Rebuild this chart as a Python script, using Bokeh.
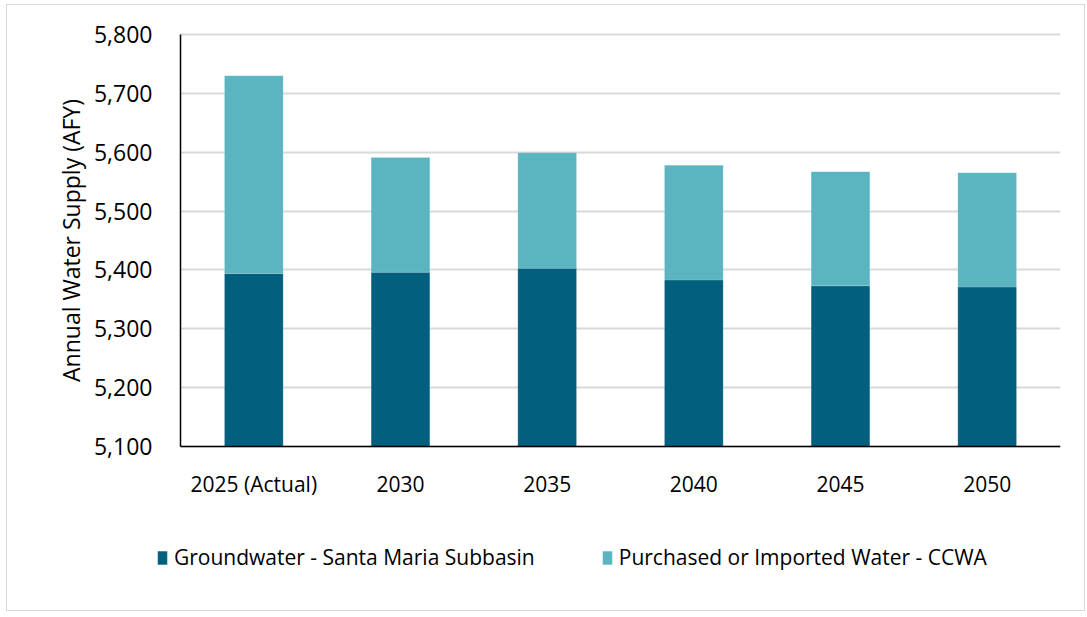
from bokeh.plotting import figure
from bokeh.models import (ColumnDataSource, NumeralTickFormatter, Legend, LegendItem, Range1d,
                          FixedTicker, LinearAxis, Grid)
from bokeh.embed import file_html
from bokeh.resources import INLINE

categories = ["2025 (Actual)", "2030", "2035", "2040", "2045", "2050"]
groundwater = [5394, 5396, 5403, 5383, 5373, 5371]
purchased = [336, 195, 196, 195, 194, 194]
y_ticks = [5100, 5200, 5300, 5400, 5500, 5600, 5700, 5800]

series_names = ["Groundwater - Santa Maria Subbasin", "Purchased or Imported Water - CCWA"]
colors = ["#025f7d", "#5ab5c0"]

idx = list(range(len(categories)))
total = [g + q for g, q in zip(groundwater, purchased)]
base = [y_ticks[0]] * len(categories)
src = ColumnDataSource(dict(x=idx, base=base, gw=groundwater, total=total))

FONT = "Open Sans"

# layout (pixels)
W, H = 1079, 607
ORIGIN_X, ORIGIN_Y = 8, 6
FRAME_L, FRAME_R, FRAME_T, FRAME_B = 12, 1061, 12, 603
AXIS_X, AXIS_TOP, AXIS_BOTTOM = 181, 35, 447

px_per_x = (FRAME_R - AXIS_X) / len(categories)
x_start = -0.5 - (AXIS_X - FRAME_L) / px_per_x
x_end = len(categories) - 0.5
px_per_y = (AXIS_BOTTOM - AXIS_TOP) / (y_ticks[-1] - y_ticks[0])
y_end = y_ticks[-1] + (AXIS_TOP - FRAME_T) / px_per_y
y_start = y_ticks[0] - (FRAME_B - AXIS_BOTTOM) / px_per_y

p = figure(width=W, height=H, output_backend="svg", toolbar_location=None, tools="",
           x_axis_location=None, y_axis_location=None,
           x_range=Range1d(x_start, x_end), y_range=Range1d(y_start, y_end))
p.min_border_left = FRAME_L - ORIGIN_X
p.min_border_right = ORIGIN_X + W - FRAME_R
p.min_border_top = FRAME_T - ORIGIN_Y
p.min_border_bottom = ORIGIN_Y + H - FRAME_B
p.styles = {"border": "1px solid #d9d9d9", "margin-left": "6px", "margin-top": "4px"}
p.outline_line_color = None
p.grid.visible = False

grid = Grid(dimension=1, ticker=FixedTicker(ticks=y_ticks),
            bounds=(y_ticks[0], y_ticks[-1]), cross_bounds=(-0.5, x_end),
            grid_line_color="#d9d9d9", grid_line_width=2)
p.add_layout(grid, "center")

r1 = p.vbar(x="x", bottom="base", top="gw", width=0.4, source=src, fill_color=colors[0],
            line_color="#ffffff", line_alpha=0.3, line_width=0.5)
r2 = p.vbar(x="x", bottom="gw", top="total", width=0.4, source=src, fill_color=colors[1],
            line_color="#ffffff", line_alpha=0.3, line_width=0.5)

yaxis = LinearAxis(fixed_location=-0.5, bounds=(y_ticks[0], y_ticks[-1]),
                   ticker=FixedTicker(ticks=y_ticks),
                   formatter=NumeralTickFormatter(format="0,0"))
xaxis = LinearAxis(fixed_location=y_ticks[0], bounds=(-0.5, x_end),
                   ticker=FixedTicker(ticks=idx),
                   major_label_overrides={i: c for i, c in zip(idx, categories)})

for ax in (xaxis, yaxis):
    ax.major_tick_line_color = None
    ax.minor_tick_line_color = None
    ax.axis_line_color = "black"
    ax.axis_line_width = 1.5
    ax.major_label_text_font = FONT
    ax.major_label_text_color = "#000000"

yaxis.major_label_text_font_size = "23px"
yaxis.major_label_standoff = 22
xaxis.major_label_text_font_size = "21px"
xaxis.major_label_standoff = 17
yaxis.axis_label = "Annual Water Supply (AFY)"
yaxis.axis_label_text_font = FONT
yaxis.axis_label_text_font_size = "23px"
yaxis.axis_label_text_font_style = "normal"
yaxis.axis_label_text_color = "#000000"
yaxis.axis_label_standoff = 4

p.add_layout(yaxis, "left")
p.add_layout(xaxis, "below")

legend = Legend(items=[LegendItem(label=series_names[0], renderers=[r1]),
                       LegendItem(label=series_names[1], renderers=[r2])],
                orientation="horizontal", location=(157 - FRAME_L, FRAME_B - 572))
legend.label_text_font = FONT
legend.label_text_font_size = "21px"
legend.label_text_color = "#000000"
legend.glyph_width = 12
legend.glyph_height = 17
legend.label_standoff = 6
legend.spacing = 66
legend.padding = 0
legend.margin = 0
legend.border_line_color = None
legend.background_fill_alpha = 0
p.add_layout(legend, "center")

open("out.html", "w").write(file_html(p, INLINE))
